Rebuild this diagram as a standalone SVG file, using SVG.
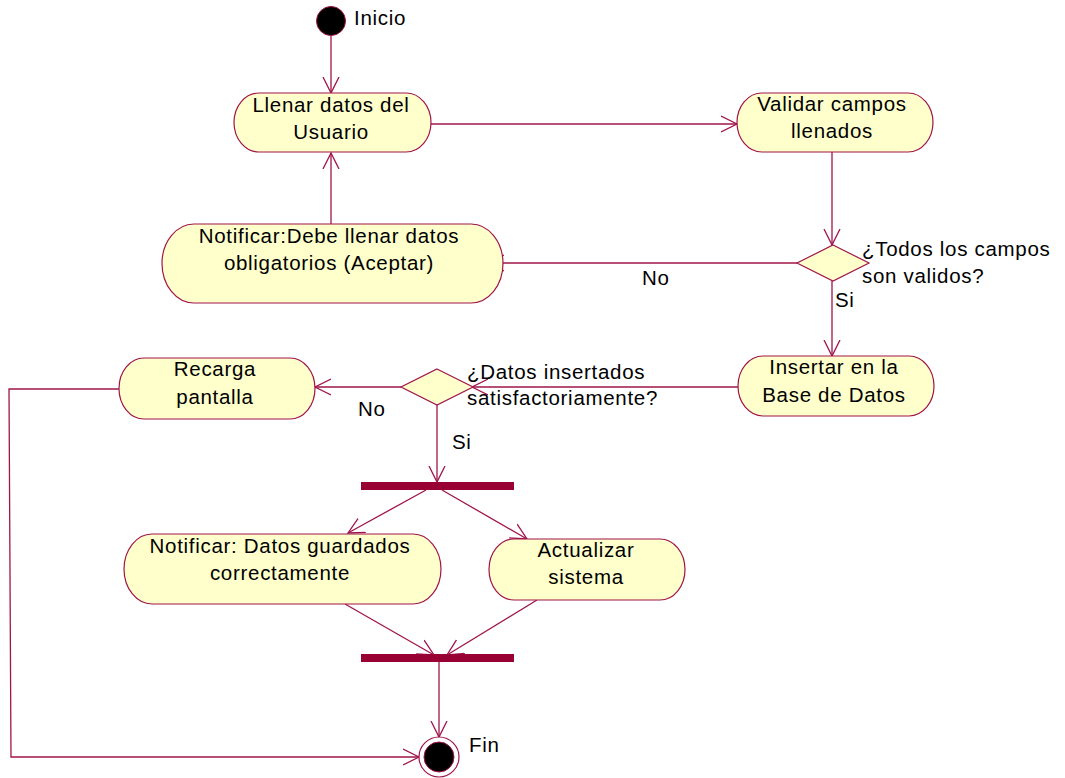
<svg xmlns="http://www.w3.org/2000/svg" width="1065" height="778" viewBox="0 0 1065 778">
<style>
.act{fill:#FFFFCC;stroke:#A0144A;stroke-width:1.2}
.dec{fill:#FFFFCC;stroke:#A0144A;stroke-width:1.2}
.bar{fill:#990033}
.t{font-family:"Liberation Sans",Arial,sans-serif;font-size:20.5px;letter-spacing:0.7px;fill:#000}
.c{text-anchor:middle}
.e{fill:none;stroke:#A0144A;stroke-width:1.3}
</style>
<defs>
<marker id="arr" markerUnits="userSpaceOnUse" markerWidth="20" markerHeight="20" refX="16" refY="8" orient="auto" viewBox="0 0 20 16">
<path d="M0,0 L16,8 L0,16" fill="none" stroke="#A0144A" stroke-width="1.3"/>
</marker>
</defs>
<rect width="1065" height="778" fill="#fff"/>
<g id="connectors">
<line class="e" x1="331" y1="36" x2="331" y2="93" marker-end="url(#arr)"/>
<line class="e" x1="431" y1="124" x2="737" y2="124" marker-end="url(#arr)"/>
<line class="e" x1="832" y1="152" x2="832" y2="245" marker-end="url(#arr)"/>
<line class="e" x1="797" y1="263" x2="488" y2="263" marker-end="url(#arr)"/>
<line class="e" x1="331" y1="224" x2="331" y2="153" marker-end="url(#arr)"/>
<line class="e" x1="832" y1="281" x2="832" y2="356" marker-end="url(#arr)"/>
<line class="e" x1="738" y1="387" x2="472" y2="387" marker-end="url(#arr)"/>
<line class="e" x1="401" y1="387" x2="315" y2="387" marker-end="url(#arr)"/>
<line class="e" x1="437" y1="405" x2="437" y2="482" marker-end="url(#arr)"/>
<line class="e" x1="426" y1="490" x2="348" y2="533" marker-end="url(#arr)"/>
<line class="e" x1="442" y1="490" x2="527" y2="539" marker-end="url(#arr)"/>
<line class="e" x1="345" y1="604" x2="434" y2="655" marker-end="url(#arr)"/>
<line class="e" x1="537" y1="600" x2="447" y2="655" marker-end="url(#arr)"/>
<line class="e" x1="439" y1="662" x2="439" y2="737" marker-end="url(#arr)"/>
<polyline class="e" points="119,389 9,389 11,757 419,757" marker-end="url(#arr)"/>
</g>
<g id="start">
<circle cx="331" cy="21" r="14.5" fill="#000" stroke="#A0144A" stroke-width="1"/>
<text class="t" x="354" y="25">Inicio</text>
</g>
<g id="llenar">
<rect class="act" x="234" y="93" width="197" height="59" rx="25" ry="29.5"/>
<text class="t c" x="331" y="112">Llenar datos del</text>
<text class="t c" x="331" y="139">Usuario</text>
</g>
<g id="validar">
<rect class="act" x="737" y="93" width="196" height="59" rx="25" ry="29.5"/>
<text class="t c" x="832" y="111">Validar campos</text>
<text class="t c" x="832" y="138">llenados</text>
</g>
<g id="decision1">
<polygon class="dec" points="833,245 869,263 833,281 797,263"/>
<text class="t" x="862" y="256">¿Todos los campos</text>
<text class="t" x="862" y="283">son validos?</text>
<text class="t" x="835" y="307">Si</text>
<text class="t" x="642" y="285">No</text>
</g>
<g id="notificar1">
<rect class="act" x="162" y="224" width="341" height="79" rx="32" ry="39.5"/>
<text class="t c" x="329" y="243">Notificar:Debe llenar datos</text>
<text class="t c" x="329" y="270">obligatorios (Aceptar)</text>
</g>
<g id="insertar">
<rect class="act" x="738" y="356" width="196" height="60" rx="25" ry="30"/>
<text class="t c" x="834" y="374">Insertar en la</text>
<text class="t c" x="834" y="402">Base de Datos</text>
</g>
<g id="decision2">
<polygon class="dec" points="437,369 473,387 437,405 401,387"/>
<text class="t" x="467" y="379">¿Datos insertados</text>
<text class="t" x="467" y="405">satisfactoriamente?</text>
<text class="t" x="358" y="416">No</text>
<text class="t" x="452" y="449">Si</text>
</g>
<g id="recarga">
<rect class="act" x="119" y="358" width="196" height="61" rx="25" ry="30.5"/>
<text class="t c" x="215" y="376">Recarga</text>
<text class="t c" x="215" y="404">pantalla</text>
</g>
<g id="fork">
<rect class="bar" x="361" y="482" width="153" height="8"/>
</g>
<g id="notificar2">
<rect class="act" x="124" y="534" width="317" height="70" rx="28" ry="35"/>
<text class="t c" x="280" y="553">Notificar: Datos guardados</text>
<text class="t c" x="280" y="580">correctamente</text>
</g>
<g id="actualizar">
<rect class="act" x="489" y="539" width="196" height="61" rx="25" ry="30.5"/>
<text class="t c" x="586" y="557">Actualizar</text>
<text class="t c" x="586" y="584">sistema</text>
</g>
<g id="join">
<rect class="bar" x="361" y="654" width="153" height="8"/>
</g>
<g id="end">
<circle cx="439" cy="757" r="20" fill="#fff" stroke="#A0144A" stroke-width="1.2"/>
<circle cx="439" cy="757" r="15" fill="#000" stroke="#A0144A" stroke-width="1"/>
<text class="t" x="469" y="752">Fin</text>
</g>
</svg>
